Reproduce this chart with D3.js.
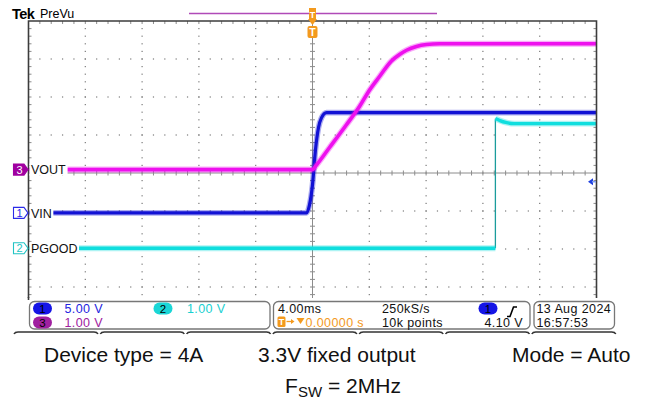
<!DOCTYPE html>
<html><head><meta charset="utf-8">
<script src="https://cdn.jsdelivr.net/npm/d3@7"></script>
<style>body{margin:0;background:#fff}svg{display:block}text{font-family:"Liberation Sans",Arial,sans-serif}</style>
</head><body><svg id="c" width="647" height="402"></svg>
<script>
// ---------------- data (time in ms, values in volts) ----------------
const vinTime  = [-20, -0.42, -0.21, 0, 0.21, 0.42, 0.63, 0.99, 1.4, 20];
const vinVolts = [0, 0, 1.05, 3.7, 8.3, 11.2, 12.5, 13.2, 13.2, 13.2];
const voutTime  = [-20, 0, 0.28, 1.2, 2.39, 3.31, 4.01, 4.72, 5.56, 6.13, 6.62, 7.32, 8.03, 8.94, 20];
const voutVolts = [0, 0, 0.12, 0.58, 1.18, 1.66, 2.09, 2.45, 2.86, 3.03, 3.14, 3.24, 3.29, 3.31, 3.31];
const pgoodLowTime   = [-20, 12.88];
const pgoodLowVolts  = [0, 0];
const pgoodHighTime  = [12.88, 12.95, 13.2, 13.6, 14.2, 20];
const pgoodHighVolts = [3.41, 3.40, 3.36, 3.31, 3.28, 3.28];
const channelIds   = ["1", "2", "3"];
const channelNames = ["VIN", "PGOOD", "VOUT"];
const voltsPerDiv  = [5, 1, 1];
const channelPos   = [-1.05, -1.98, 0.09];      // ground marker position, divisions
const scaleLabels  = ["5.00 V", "1.00 V", "1.00 V"];
const timePerDiv = 4;           // ms/div
const timebaseLabel = "4.00ms";
const sampleRateLabel = "250kS/s";
const recordLabel = "10k points";
const trigPosLabel = "0.00000 s";
const trigLevel = 4.10;
const trigLevelLabel = "4.10 V";
const dateLabel = "13 Aug 2024";
const timeLabel = "16:57:53";
const footerLine1 = ["Device type = 4A", "3.3V fixed output", "Mode = Auto"];

// ---------------- geometry ----------------
const svg = d3.select("#c");
const X0 = 28.5, X1 = 596.5, YT = 21, DIV = 38, YB = YT + 8 * DIV, YC = YT + 4 * DIV;
const XC = (X0 + X1) / 2;
const x = d3.scaleLinear().domain([-5 * timePerDiv, 5 * timePerDiv]).range([X0, X1]);
function chScale(i) {
  const vd = voltsPerDiv[i], p = channelPos[i];
  return d3.scaleLinear().domain([-(4 + p) * vd, (4 - p) * vd]).range([YB, YT]);
}
const yVin = chScale(0), yPg = chScale(1), yVout = chScale(2);
const colors = { vin: "#1212d4", pg: "#10dede", vout: "#ee10ee" };

svg.append("rect").attr("width", 647).attr("height", 402).attr("fill", "#fff");

// ---------------- graticule ----------------
const g = svg.append("g");
const mx = (X1 - X0) / 50, my = DIV / 5;
const dots = [];
for (let k = 1; k < 10; k++) { if (k === 5) continue;
  const gx = X0 + k * (X1 - X0) / 10;
  for (let j = 1; j < 40; j++) dots.push([gx, YT + j * my]); }
for (let i = 1; i < 8; i++) { if (i === 4) continue;
  const gy = YT + i * DIV;
  for (let j = 1; j < 50; j++) dots.push([X0 + j * mx, gy]); }
g.selectAll("rect.dot").data(dots).join("rect").attr("class", "dot")
  .attr("x", d => d[0] - 0.6).attr("y", d => d[1] - 0.6).attr("width", 1.2).attr("height", 1.2).attr("fill", "#7a7a7a");
// center cross
g.append("line").attr("x1", X0).attr("x2", X1).attr("y1", YC).attr("y2", YC).attr("stroke", "#8c8c8c").attr("stroke-width", 1);
g.append("line").attr("x1", XC).attr("x2", XC).attr("y1", YT).attr("y2", YB).attr("stroke", "#8c8c8c").attr("stroke-width", 1);
const cticks = [];
for (let j = 1; j < 50; j++) cticks.push([X0 + j * mx, YC - 2.5, X0 + j * mx, YC + 2.5]);
for (let j = 1; j < 40; j++) cticks.push([XC - 2.5, YT + j * my, XC + 2.5, YT + j * my]);
for (let j = 1; j < 50; j++) cticks.push([X0 + j * mx, YT, X0 + j * mx, YT + 3]);
for (let j = 1; j < 40; j++) { cticks.push([X0, YT + j * my, X0 + 3, YT + j * my]); cticks.push([X1 - 3, YT + j * my, X1, YT + j * my]); }
g.selectAll("line.tk").data(cticks).join("line").attr("class", "tk")
  .attr("x1", d => d[0]).attr("y1", d => d[1]).attr("x2", d => d[2]).attr("y2", d => d[3])
  .attr("stroke", "#8c8c8c").attr("stroke-width", 1);

// ---------------- traces ----------------
function trace(times, volts, ys, color, w) {
  const pts = times.map((t, i) => [t, volts[i]]);
  const line = d3.line().x(d => x(d[0])).y(d => ys(d[1])).curve(d3.curveMonotoneX);
  svg.append("path").attr("d", line(pts)).attr("fill", "none").attr("stroke", color)
    .attr("stroke-width", w + 2.5).attr("stroke-opacity", 0.35).attr("stroke-linejoin", "round");
  svg.append("path").attr("d", line(pts)).attr("fill", "none").attr("stroke", color)
    .attr("stroke-width", w).attr("stroke-linejoin", "round");
}
// PGOOD edge (thin)
svg.append("line").attr("x1", x(pgoodLowTime[1])).attr("x2", x(pgoodHighTime[0]))
  .attr("y1", yPg(pgoodLowVolts[1])).attr("y2", yPg(pgoodHighVolts[0]))
  .attr("stroke", "#1a9c9c").attr("stroke-width", 1.3);
trace(pgoodLowTime, pgoodLowVolts, yPg, colors.pg, 3.4);
trace(pgoodHighTime, pgoodHighVolts, yPg, colors.pg, 3.4);
trace(vinTime, vinVolts, yVin, colors.vin, 3.2);
trace(voutTime, voutVolts, yVout, colors.vout, 3.6);

// border
svg.append("path").attr("d", `M${X0},300 V${YT} H${X1} V300`).attr("fill", "none").attr("stroke", "#3c3c3c").attr("stroke-width", 1.6);
// cover lower part
svg.append("rect").attr("x", 0).attr("y", 298).attr("width", 647).attr("height", 104).attr("fill", "#fff");
svg.append("line").attr("x1", X0).attr("x2", X0).attr("y1", 297).attr("y2", 300).attr("stroke", "#3c3c3c").attr("stroke-width", 1.6);

// ---------------- channel markers + labels ----------------
const markerFill = ["none", "none", "#a000a0"];
const markerStroke = ["#2a2ae8", "#20c4c4", "#a000a0"];
const markerText = ["#2a2ae8", "#20c4c4", "#ffffff"];
const ys = [yVin, yPg, yVout];
[2, 0, 1].forEach(i => {
  const cy = ys[i](0);
  const mk = svg.append("g");
  mk.append("path").attr("d", `M13.5,${cy - 5.5} H24 L28,${cy} L24,${cy + 5.5} H13.5 Z`)
    .attr("fill", markerFill[i]).attr("stroke", markerStroke[i]).attr("stroke-width", 1.1);
  mk.append("text").attr("x", 19.5).attr("y", cy + 4).attr("text-anchor", "middle")
    .attr("font-size", 11).attr("fill", markerText[i]).text(channelIds[i]);
  const t = svg.append("text").attr("x", 31).attr("y", cy + 4.6).attr("font-size", 12.5).attr("fill", "#111").text(channelNames[i]);
  const bb = t.node().getBBox();
  svg.insert("rect", () => t.node()).attr("x", 29.5).attr("y", cy - 6).attr("width", bb.x + bb.width - 29.5 + 1.5).attr("height", 12).attr("fill", "#fff");
});

// trigger level arrow (right)
const ty = yVin(trigLevel);
svg.append("path").attr("d", `M588,${ty} L593,${ty - 3.5} L593,${ty + 3.5} Z`).attr("fill", "#2040e0");
svg.append("line").attr("x1", 592).attr("x2", 596).attr("y1", ty).attr("y2", ty).attr("stroke", "#7f9cf0").attr("stroke-width", 1.5);

// ---------------- top area ----------------
svg.append("text").attr("x", 12).attr("y", 18.5).attr("font-size", 14.5).attr("font-weight", "bold").attr("fill", "#000").attr("letter-spacing", -0.6).text("Tek");
svg.append("text").attr("x", 40).attr("y", 18).attr("font-size", 12.5).attr("fill", "#000").text("PreVu");
svg.append("line").attr("x1", 189).attr("x2", 437).attr("y1", 13.5).attr("y2", 13.5).attr("stroke", "#b04ab8").attr("stroke-width", 1.5);
const orange = "#f39a1e";
svg.append("rect").attr("x", XC - 3.5).attr("y", 8).attr("width", 7).attr("height", 12).attr("fill", orange);
svg.append("path").attr("d", `M${XC - 4.5},19 H${XC + 4.5} L${XC},25 Z`).attr("fill", orange);
svg.append("text").attr("x", XC).attr("y", 17.5).attr("text-anchor", "middle").attr("font-size", 9).attr("font-weight", "bold").attr("fill", "#fff").text("T");
svg.append("rect").attr("x", XC - 5).attr("y", 26).attr("width", 10).attr("height", 12).attr("rx", 2).attr("fill", orange);
svg.append("text").attr("x", XC).attr("y", 36).attr("text-anchor", "middle").attr("font-size", 10.5).attr("font-weight", "bold").attr("fill", "#fff").text("T");

// ---------------- readout ----------------
const box = (x0, x1) => svg.append("rect").attr("x", x0).attr("y", 301.5).attr("width", x1 - x0).attr("height", 27.5)
  .attr("rx", 5).attr("fill", "#fff").attr("stroke", "#777").attr("stroke-width", 1.3);
box(29.5, 270); box(273.5, 530); box(534, 614.5);
const rt = (tx, ty2, s, col, anchor) => svg.append("text").attr("x", tx).attr("y", ty2).attr("font-size", 12.5)
  .attr("letter-spacing", 0.4).attr("fill", col).attr("text-anchor", anchor || "start").text(s);
const pill = (cx, cy, fill, label) => {
  svg.append("rect").attr("x", cx - 9.5).attr("y", cy - 6).attr("width", 19).attr("height", 12).attr("rx", 6).attr("fill", fill);
  svg.append("text").attr("x", cx).attr("y", cy + 4.2).attr("text-anchor", "middle").attr("font-size", 11.5).attr("fill", "#000").text(label);
};
const R1 = 313, R2 = 327;
pill(42.5, 308.5, "#1515e6", channelIds[0]); rt(64.5, R1, scaleLabels[0], "#2424e0");
pill(163, 308.5, "#1ad6d6", channelIds[1]); rt(187, R1, scaleLabels[1], "#18d0d0");
pill(42.5, 322.5, "#a020a0", channelIds[2]); rt(64.5, R2, scaleLabels[2], "#a020a0");
rt(278, R1, timebaseLabel, "#111"); rt(382, R1, sampleRateLabel, "#111");
svg.append("rect").attr("x", 277.5).attr("y", 316.5).attr("width", 8).attr("height", 10.5).attr("rx", 1.5).attr("fill", orange);
svg.append("text").attr("x", 281.5).attr("y", 325).attr("text-anchor", "middle").attr("font-size", 9).attr("font-weight", "bold").attr("fill", "#fff").text("T");
svg.append("line").attr("x1", 286.5).attr("x2", 293).attr("y1", 321.5).attr("y2", 321.5).attr("stroke", orange).attr("stroke-width", 1.3);
svg.append("path").attr("d", "M291,319 L294.5,321.5 L291,324 Z").attr("fill", orange);
svg.append("path").attr("d", `M296.5,318 H304.5 L300.5,324 Z`).attr("fill", orange);
rt(305.5, R2, trigPosLabel, orange);
rt(382, R2, recordLabel, "#111");
pill(488, 308.5, "#1515e6", channelIds[0]);
svg.append("path").attr("d", "M507,316.5 H510 L513.5,307 H517").attr("fill", "none").attr("stroke", "#000").attr("stroke-width", 1.6);
rt(523, R2, trigLevelLabel, "#111", "end");
rt(536.5, R1, dateLabel, "#111"); rt(536.5, R2, timeLabel, "#111");

// bottom tab bar
const tabs = d3.range(7).map(i => [14 + i * 86.3, 14 + i * 86.3 + 84]);
svg.selectAll("path.tab").data(tabs).join("path").attr("class", "tab")
  .attr("d", d => `M${d[0]},334 Q${d[0] + 1},332 ${d[0] + 4},332 H${d[1] - 4} Q${d[1] - 1},332 ${d[1]},334`)
  .attr("fill", "none").attr("stroke", "#333").attr("stroke-width", 1.5);

// ---------------- footer ----------------
const fx = [44, 258, 512];
footerLine1.forEach((s, i) => svg.append("text").attr("x", fx[i]).attr("y", 362).attr("font-size", 21).attr("fill", "#111").text(s));
const f2 = svg.append("text").attr("x", 343).attr("y", 393).attr("font-size", 21).attr("fill", "#111").attr("text-anchor", "middle");
f2.append("tspan").text("F");
f2.append("tspan").attr("font-size", 15).attr("dy", 4).text("SW");
f2.append("tspan").attr("dy", -4).text(" = 2MHz");
</script></body></html>
